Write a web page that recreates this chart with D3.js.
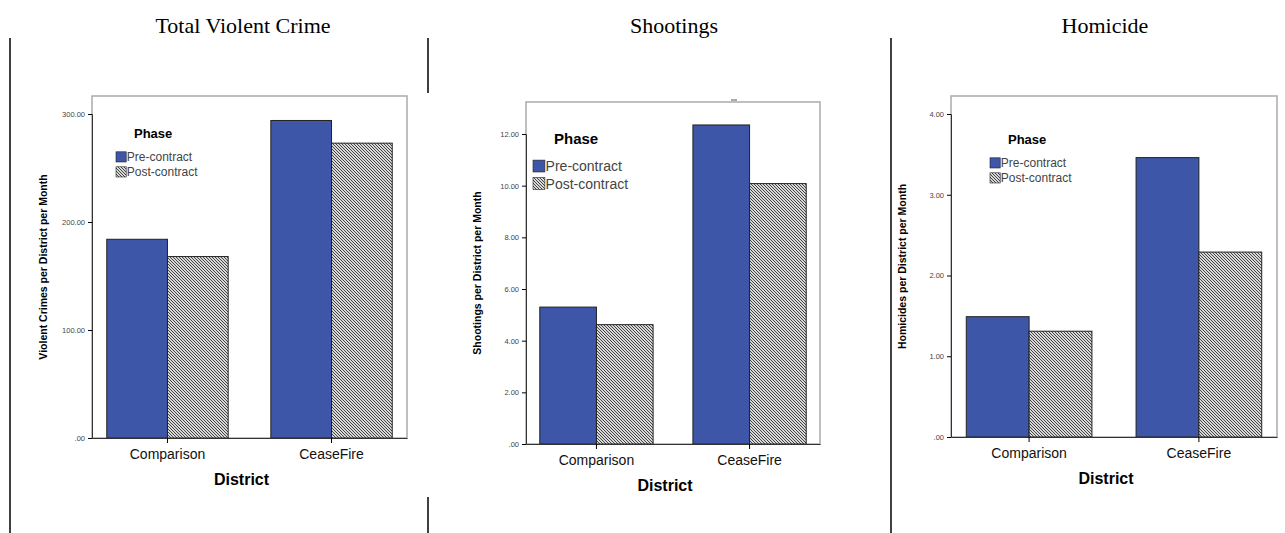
<!DOCTYPE html>
<html><head><meta charset="utf-8">
<script src="https://cdn.jsdelivr.net/npm/d3@7"></script>
<style>body{margin:0;background:#fff}svg{display:block}</style>
</head><body>
<svg id="c" width="1285" height="533"></svg>
<script>
const districts = ["Comparison", "CeaseFire"];
const phases = ["Pre-contract", "Post-contract"];
const violentPre = [184, 294], violentPost = [168, 273];
const shootPre = [5.3, 12.35], shootPost = [4.62, 10.08];
const homPre = [1.49, 3.46], homPost = [1.31, 2.29];
const violentTicks = [0, 100, 200, 300];
const shootTicks = [0, 2, 4, 6, 8, 10, 12];
const homTicks = [0, 1, 2, 3, 4];

const svg = d3.select("#c");
const defs = svg.append("defs");
const pat = defs.append("pattern").attr("id", "hatch").attr("patternUnits", "userSpaceOnUse")
  .attr("width", 3).attr("height", 3);
pat.append("rect").attr("width", 3).attr("height", 3).attr("fill", "#d8d8d8");
pat.append("path").attr("d", "M0,0L3,3M-1,2L1,4M2,-1L4,1").attr("stroke", "#444").attr("stroke-width", 1);

// divider lines
[[10, 38, 533], [428, 38, 93], [428, 497, 533], [891, 38, 533]].forEach(([x, y1, y2]) =>
  svg.append("line").attr("x1", x).attr("x2", x).attr("y1", y1).attr("y2", y2).attr("stroke", "#000").attr("stroke-width", 1.5));

[["Total Violent Crime", 243], ["Shootings", 674], ["Homicide", 1105]].forEach(([t, x]) =>
  svg.append("text").attr("x", x).attr("y", 33).attr("text-anchor", "middle")
    .attr("font-family", "Liberation Serif, serif").attr("font-size", 22).text(t));

function panel(o) {
  const g = svg.append("g").attr("font-family", "Liberation Sans, Arial, sans-serif");
  const y = d3.scaleLinear().domain([0, o.max]).range([o.bottom, o.tickTop]);
  const x = d3.scaleBand().domain(districts).range([o.left, o.right]).paddingInner(0.26).paddingOuter(0.09);
  const xs = d3.scaleBand().domain(phases).range([0, x.bandwidth()]);
  g.append("rect").attr("x", o.left).attr("y", o.top).attr("width", o.right - o.left).attr("height", o.bottom - o.top)
    .attr("fill", "#fff").attr("stroke", "#aaa").attr("stroke-width", 1.5);
  const rows = districts.map((d, i) => [{d, p: phases[0], v: o.pre[i]}, {d, p: phases[1], v: o.post[i]}]).flat();
  g.selectAll("rect.bar").data(rows).enter().append("rect").attr("class", "bar")
    .attr("x", r => x(r.d) + xs(r.p)).attr("width", xs.bandwidth())
    .attr("y", r => y(r.v)).attr("height", r => o.bottom - y(r.v))
    .attr("fill", r => r.p === phases[0] ? "#3d56a8" : "url(#hatch)")
    .attr("stroke", "#222").attr("stroke-width", 1);
  const ya = g.append("g").attr("transform", `translate(${o.left},0)`)
    .call(d3.axisLeft(y).tickValues(o.ticks).tickSize(4).tickFormat(v => v === 0 ? ".00" : v.toFixed(2)));
  ya.select(".domain").attr("stroke", "#333");
  ya.selectAll("text").attr("font-size", 7.5).attr("fill", "#444");
  const xa = g.append("g").attr("transform", `translate(0,${o.bottom})`)
    .call(d3.axisBottom(x).tickSize(5).tickSizeOuter(0));
  xa.select(".domain").attr("stroke", "#333");
  xa.selectAll("text").attr("font-size", 14).attr("fill", "#111").attr("dy", "0.9em");
  g.append("text").attr("x", (o.left + o.right) / 2 - 8).attr("y", o.bottom + 47).attr("text-anchor", "middle")
    .attr("font-size", 16).attr("font-weight", "bold").text("District");
  g.append("text").attr("transform", `translate(${o.left - 45},${(o.top + o.bottom) / 2}) rotate(-90)`)
    .attr("text-anchor", "middle").attr("font-size", 10.5).attr("font-weight", "bold").text(o.ylabel);
  const lg = g.append("g").attr("transform", `translate(${o.legX},${o.legY})`);
  lg.append("text").attr("x", o.fs * 1.5).attr("y", 0).attr("font-size", o.fs + 1).attr("font-weight", "bold").text("Phase");
  phases.forEach((p, i) => {
    const yy = o.fs * 1.15 + i * o.fs * 1.25;
    lg.append("rect").attr("x", 0).attr("y", yy).attr("width", o.fs * 0.85).attr("height", o.fs * 0.85)
      .attr("fill", i ? "url(#hatch)" : "#3d56a8").attr("stroke", "#222").attr("stroke-width", 0.6);
    lg.append("text").attr("x", o.fs * 0.9).attr("y", yy + o.fs * 0.8).attr("font-size", o.fs).attr("fill", "#444").text(p);
  });
}

panel({left: 92, right: 407, top: 96, bottom: 438, tickTop: 114, max: 300, ticks: violentTicks,
  pre: violentPre, post: violentPost, ylabel: "Violent Crimes per District per Month", legX: 116, legY: 138, fs: 12});
panel({left: 526, right: 820, top: 102, bottom: 444, tickTop: 134, max: 12, ticks: shootTicks,
  pre: shootPre, post: shootPost, ylabel: "Shootings per District per Month", legX: 533, legY: 144, fs: 14});
panel({left: 951, right: 1277, top: 96, bottom: 437, tickTop: 114, max: 4, ticks: homTicks,
  pre: homPre, post: homPost, ylabel: "Homicides per District per Month", legX: 990, legY: 144, fs: 12});
svg.append("line").attr("x1", 731).attr("x2", 737).attr("y1", 100).attr("y2", 100).attr("stroke", "#555");
</script>
</body></html>
